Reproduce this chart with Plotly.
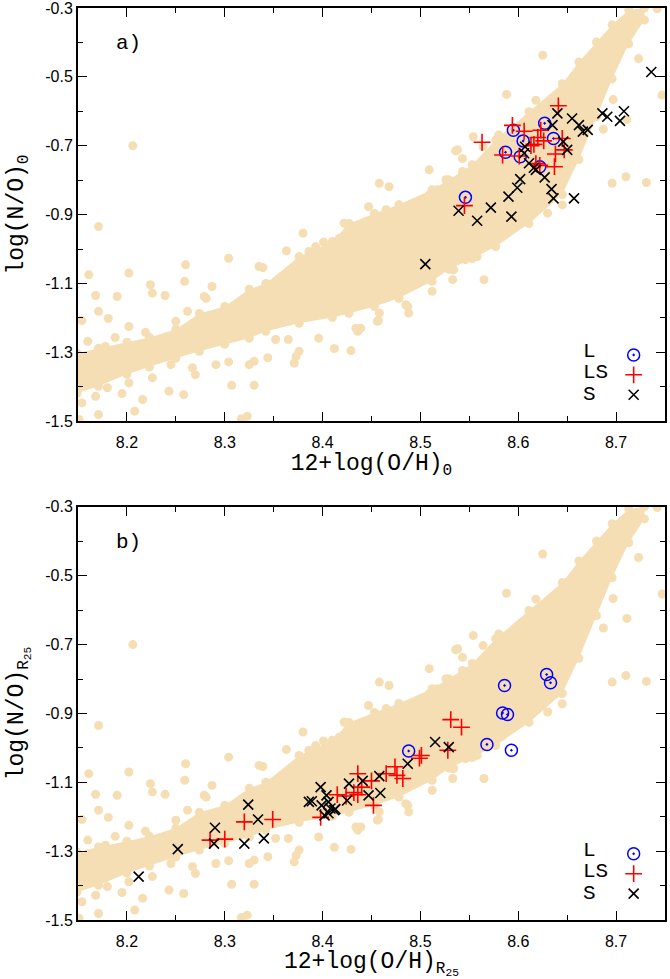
import plotly.graph_objects as go

# ---------------- data ----------------
# Background model cloud: dense band envelope (x, upper y, lower y)
ENV_X  = [8.149, 8.171, 8.200, 8.223, 8.250, 8.274, 8.300, 8.325, 8.342, 8.376, 8.410, 8.427,
          8.453, 8.478, 8.512, 8.529, 8.553, 8.577, 8.611, 8.645, 8.662, 8.680, 8.696, 8.713, 8.729]
ENV_UP = [-1.303, -1.288, -1.271, -1.257, -1.233, -1.187, -1.167, -1.117, -1.100, -1.022, -0.978, -0.926,
          -0.897, -0.871, -0.828, -0.799, -0.755, -0.683, -0.601, -0.520, -0.457, -0.399, -0.349, -0.306, -0.300]
ENV_LO = [-1.419, -1.399, -1.364, -1.343, -1.317, -1.297, -1.277, -1.259, -1.239, -1.216, -1.199, -1.187,
          -1.167, -1.143, -1.094, -1.059, -1.028, -0.993, -0.926, -0.842, -0.740, -0.616, -0.506, -0.404, -0.335]

# Background model cloud: scattered points
BG_X = [8.206, 8.171, 8.380, 8.401, 8.742, 8.715, 8.625, 8.723, 8.747, 8.588, 8.618, 8.697,
        8.554, 8.538, 8.543, 8.509, 8.458, 8.468, 8.687, 8.696, 8.710, 8.731, 8.630, 8.447,
        8.422, 8.304, 8.287, 8.279, 8.363, 8.339, 8.536, 8.512, 8.533, 8.488, 8.485, 8.456,
        8.437, 8.478, 8.565, 8.487, 8.457, 8.439, 8.436, 8.412, 8.429, 8.534, 8.558, 8.584,
        8.161, 8.202, 8.224, 8.226, 8.260, 8.259, 8.239, 8.190, 8.168, 8.171, 8.181, 8.154,
        8.202, 8.160, 8.188, 8.178, 8.219, 8.250, 8.262, 8.281, 8.154, 8.168, 8.171, 8.195,
        8.208, 8.216, 8.180, 8.202, 8.226, 8.243, 8.258, 8.267, 8.270, 8.245, 8.291, 8.304,
        8.307, 8.330, 8.317, 8.323, 8.325, 8.330, 8.344, 8.371, 8.373, 8.376, 8.365, 8.352,
        8.396, 8.151, 8.149, 8.711, 8.645, 8.564, 8.580,
        8.335, 8.359, 8.386, 8.393, 8.417, 8.425, 8.434, 8.451, 8.465, 8.478, 8.499, 8.509,
        8.517, 8.526, 8.543, 8.434, 8.458, 8.495, 8.512, 8.533, 8.546]
BG_Y = [-0.700, -0.935, -0.954, -0.980, -0.302, -0.323, -0.437, -0.447, -0.553, -0.551, -0.568, -0.566,
        -0.674, -0.712, -0.737, -0.770, -0.809, -0.819, -0.652, -0.809, -0.790, -0.807, -0.896, -0.877,
        -0.925, -1.027, -1.109, -1.138, -1.005, -1.054, -0.715, -1.123, -1.089, -1.186, -1.162, -1.210,
        -1.234, -1.133, -1.089, -1.167, -1.208, -1.230, -1.239, -1.289, -1.295, -1.060, -1.022, -0.964,
        -1.075, -1.070, -1.104, -1.128, -1.046, -1.094, -1.135, -1.138, -1.135, -1.181, -1.202, -1.208,
        -1.225, -1.268, -1.257, -1.283, -1.242, -1.210, -1.181, -1.143, -1.447, -1.428, -1.481, -1.420,
        -1.471, -1.437, -1.403, -1.389, -1.374, -1.413, -1.423, -1.345, -1.365, -1.336, -1.336, -1.328,
        -1.396, -1.396, -1.493, -1.486, -1.336, -1.326, -1.316, -1.331, -1.312, -1.297, -1.263, -1.263,
        -1.259, -1.495, -1.365, -0.624, -0.872, -0.703, -0.669,
        -1.051, -1.080, -1.007, -0.993, -0.969, -0.930, -0.935, -0.925, -0.886, -0.891, -0.862, -0.843,
        -0.828, -0.799, -0.775, -1.230, -1.186, -1.085, -1.070, -1.060, -1.031]

# Panel a) observed points
L_A_X  = [8.546, 8.595, 8.605, 8.587, 8.602, 8.627, 8.636, 8.622]
L_A_Y  = [-0.850, -0.655, -0.686, -0.719, -0.732, -0.635, -0.679, -0.761]
LS_A_X = [8.545, 8.563, 8.584, 8.594, 8.601, 8.606, 8.616, 8.620, 8.623, 8.626, 8.618, 8.622,
          8.638, 8.637, 8.645, 8.647, 8.641, 8.613]
LS_A_Y = [-0.874, -0.690, -0.727, -0.641, -0.730, -0.658, -0.696, -0.676, -0.655, -0.686, -0.752, -0.757,
          -0.724, -0.761, -0.679, -0.712, -0.584, -0.700]
S_A_X  = [8.539, 8.558, 8.572, 8.593, 8.590, 8.599, 8.602, 8.607, 8.606, 8.611, 8.616, 8.618, 8.627,
          8.634, 8.636, 8.657, 8.635, 8.640, 8.646, 8.650, 8.655, 8.662, 8.666, 8.671, 8.686, 8.691,
          8.704, 8.708, 8.736, 8.505]
S_A_Y  = [-0.889, -0.918, -0.880, -0.906, -0.848, -0.822, -0.797, -0.703, -0.722, -0.751, -0.764, -0.770,
          -0.792, -0.826, -0.853, -0.853, -0.640, -0.606, -0.688, -0.712, -0.621, -0.640, -0.659, -0.654,
          -0.606, -0.616, -0.628, -0.600, -0.486, -1.044]

# Panel b) observed points
L_B_X  = [8.488, 8.568, 8.593, 8.586, 8.584, 8.589, 8.629, 8.633]
L_B_Y  = [-1.009, -0.990, -1.007, -0.819, -0.899, -0.903, -0.787, -0.811]
LS_B_X = [8.285, 8.300, 8.320, 8.349, 8.398, 8.415, 8.424, 8.432, 8.436, 8.440, 8.436, 8.450, 8.452,
          8.465, 8.474, 8.476, 8.482, 8.499, 8.501, 8.528, 8.531, 8.542]
LS_B_Y = [-1.268, -1.265, -1.215, -1.208, -1.202, -1.136, -1.140, -1.130, -1.136, -1.114, -1.075, -1.096,
          -1.167, -1.075, -1.055, -1.080, -1.089, -1.030, -1.022, -1.007, -0.918, -0.940]
S_B_X  = [8.212, 8.252, 8.289, 8.290, 8.320, 8.324, 8.334, 8.340, 8.386, 8.389, 8.398, 8.404, 8.406,
          8.399, 8.408, 8.412, 8.402, 8.406, 8.413, 8.425, 8.427, 8.441, 8.447, 8.458, 8.459, 8.487,
          8.515, 8.529]
S_B_Y  = [-1.374, -1.294, -1.278, -1.232, -1.278, -1.165, -1.208, -1.263, -1.157, -1.155, -1.114, -1.138,
          -1.157, -1.167, -1.176, -1.181, -1.196, -1.190, -1.178, -1.153, -1.104, -1.096, -1.138, -1.082,
          -1.131, -1.046, -0.983, -0.998]

X_TICKS = [8.2, 8.3, 8.4, 8.5, 8.6, 8.7]
X_TICK_TEXT = ["8.2", "8.3", "8.4", "8.5", "8.6", "8.7"]
Y_TICKS = [-1.5, -1.3, -1.1, -0.9, -0.7, -0.5, -0.3]
Y_TICK_TEXT = ["-1.5", "-1.3", "-1.1", "-0.9", "-0.7", "-0.5", "-0.3"]
SERIES_NAMES = ["L", "LS", "S"]
PANEL_LABELS = ["a)", "b)"]

# ---------------- styling ----------------
WHEAT = "#F5DEB3"
MONO = "Liberation Mono, Courier New, monospace"
SANS = "Liberation Sans, Arial, Helvetica, sans-serif"

fig = go.Figure()

panels = [
    ("x", "y", L_A_X, L_A_Y, LS_A_X, LS_A_Y, S_A_X, S_A_Y, "legend"),
    ("x2", "y2", L_B_X, L_B_Y, LS_B_X, LS_B_Y, S_B_X, S_B_Y, "legend2"),
]

for xa, ya, lx, ly, lsx, lsy, sx, sy, lg in panels:
    fig.add_trace(go.Scatter(
        x=ENV_X + ENV_X[::-1], y=ENV_UP + ENV_LO[::-1],
        xaxis=xa, yaxis=ya, mode="lines", fill="toself", fillcolor=WHEAT,
        line=dict(width=0, color=WHEAT), showlegend=False, hoverinfo="skip"))
    fig.add_trace(go.Scatter(
        x=ENV_X + ENV_X, y=ENV_UP + ENV_LO, xaxis=xa, yaxis=ya, mode="markers",
        marker=dict(size=9, color=WHEAT), showlegend=False, hoverinfo="skip"))
    fig.add_trace(go.Scatter(
        x=BG_X, y=BG_Y, xaxis=xa, yaxis=ya, mode="markers",
        marker=dict(size=9, color=WHEAT), showlegend=False, hoverinfo="skip"))
    fig.add_trace(go.Scatter(
        x=lx, y=ly, xaxis=xa, yaxis=ya, mode="markers", name=" ", legend=lg,
        marker=dict(symbol="circle-open-dot", size=12, color="blue", line=dict(width=1.5, color="blue"))))
    fig.add_trace(go.Scatter(
        x=lsx, y=lsy, xaxis=xa, yaxis=ya, mode="markers", name=" ", legend=lg,
        marker=dict(symbol="cross-thin-open", size=12, color="red", line=dict(width=1.6, color="red"))))
    fig.add_trace(go.Scatter(
        x=sx, y=sy, xaxis=xa, yaxis=ya, mode="markers", name=" ", legend=lg,
        marker=dict(symbol="x-thin-open", size=10, color="black", line=dict(width=1.6, color="black"))))

axis_common = dict(
    showline=True, linewidth=2, linecolor="black", mirror="allticks",
    ticks="inside", ticklen=9, tickwidth=1.2, tickcolor="black",
    showgrid=False, zeroline=False, automargin=False, ticklabeloverflow="allow",
    tickfont=dict(family=SANS, size=16, color="black"),
    minor=dict(ticks="inside", ticklen=5, tickwidth=1.2, tickcolor="black", showgrid=False),
)

xcommon = dict(axis_common, range=[8.15, 8.75], tickvals=X_TICKS, ticktext=X_TICK_TEXT,
               ticklabelstandoff=6,
               minor=dict(axis_common["minor"], dtick=0.05, tick0=8.15))
ycommon = dict(axis_common, range=[-1.5, -0.3], tickvals=Y_TICKS, ticktext=Y_TICK_TEXT,
               minor=dict(axis_common["minor"], dtick=0.1, tick0=-1.5))

title_font = dict(family=MONO, size=23, color="black")

fig.update_layout(
    template="none",
    width=670, height=979,
    margin=dict(l=78, r=4, t=8, b=59),
    paper_bgcolor="white", plot_bgcolor="white",
    xaxis=dict(xcommon, domain=[0, 1], anchor="y",
               title=dict(text="12+log(O/H)<sub>0</sub>", font=title_font, standoff=4)),
    yaxis=dict(ycommon, domain=[0.547, 1], anchor="x",
               title=dict(text="log(N/O)<sub>0</sub>", font=title_font, standoff=15)),
    xaxis2=dict(xcommon, domain=[0, 1], anchor="y2",
                title=dict(text="12+log(O/H)<sub>R<sub>25</sub></sub>", font=title_font, standoff=2)),
    yaxis2=dict(ycommon, domain=[0, 0.453], anchor="x2",
                title=dict(text="log(N/O)<sub>R<sub>25</sub></sub>", font=title_font, standoff=15)),
    legend=dict(x=0.911, y=0.636, xanchor="left", yanchor="top", bgcolor="rgba(0,0,0,0)",
                font=dict(family=MONO, size=13), tracegroupgap=0),
    legend2=dict(x=0.911, y=0.089, xanchor="left", yanchor="top", bgcolor="rgba(0,0,0,0)",
                 font=dict(family=MONO, size=13), tracegroupgap=0),
)

for i, (xr, yr) in enumerate([("x domain", "y domain"), ("x2 domain", "y2 domain")]):
    fig.add_annotation(x=0.061, y=0.913, xref=xr, yref=yr, text=PANEL_LABELS[i],
                       showarrow=False, xanchor="left", yanchor="middle",
                       font=dict(family=MONO, size=21, color="black"))
    for j, nm in enumerate(SERIES_NAMES):
        fig.add_annotation(x=0.857, y=[0.169, 0.117, 0.065][j], xref=xr, yref=yr, text=nm,
                           showarrow=False, xanchor="left", yanchor="middle",
                           font=dict(family=MONO, size=21, color="black"))

fig.write_html("out.html", config={"displayModeBar": False},
               post_script="document.body.style.margin='0';document.body.style.padding='0';")
